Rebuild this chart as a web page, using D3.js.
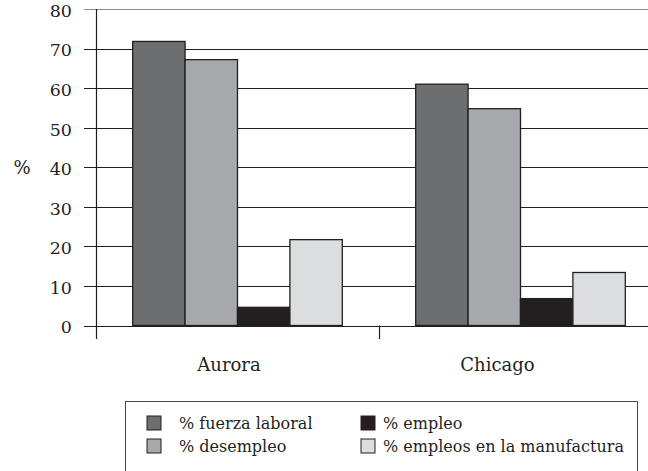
<!DOCTYPE html>
<html><head><meta charset="utf-8">
<script src="https://cdn.jsdelivr.net/npm/d3@7"></script>
<style>body{margin:0;background:#fff}svg{display:block}text{font-family:"DejaVu Serif",serif;fill:#231f20}</style>
</head><body><svg id="c" width="648" height="471"></svg>
<script>
const categories = ["Aurora", "Chicago"];
const seriesNames = ["% fuerza laboral", "% desempleo", "% empleo", "% empleos en la manufactura"];
const seriesColors = ["#6d6e70", "#a7a8ab", "#231f20", "#dcdddf"];
const aurora = [71.8, 67.2, 4.6, 21.7];
const chicago = [61.0, 54.8, 6.8, 13.4];
const yTicks = [0, 10, 20, 30, 40, 50, 60, 70, 80];
const values = [aurora, chicago];

const svg = d3.select("#c");
const pLeft = 96, pRight = 662, pTop = 9, pBottom = 325.5;
const y = d3.scaleLinear().domain([0, 80]).range([pBottom, pTop]);
const x0 = d3.scaleBand().domain(categories).range([pLeft, pRight]).paddingInner(0).paddingOuter(0);
const x1 = d3.scaleBand().domain(seriesNames).range([0, x0.bandwidth()]).paddingOuter(0.7).paddingInner(0);
const labelX = d3.scalePoint().domain(categories).range([229, 497.5]);

// gridlines
svg.append("g").selectAll("line").data(yTicks).join("line")
  .attr("x1", 84).attr("x2", 648)
  .attr("y1", d => Math.round(y(d)) + 0.5).attr("y2", d => Math.round(y(d)) + 0.5)
  .attr("stroke", d => d === 80 ? "#8a8a8c" : "#231f20").attr("stroke-width", 1.2);

// y labels
svg.append("g").selectAll("text").data(yTicks).join("text")
  .attr("x", 72).attr("y", d => y(d)).attr("dy", "0.45em")
  .attr("text-anchor", "end").attr("font-size", 17.5).text(d => d);
svg.append("text").attr("x", 22).attr("y", y(40)).attr("dy", "0.4em")
  .attr("text-anchor", "middle").attr("font-size", 18).text("%");

// bars
const groups = svg.append("g").selectAll("g").data(categories).join("g")
  .attr("transform", d => `translate(${x0(d)},0)`);
groups.selectAll("rect").data((d, i) => values[i].map((v, j) => ({v, j})))
  .join("rect")
  .attr("x", d => x1(seriesNames[d.j]))
  .attr("width", x1.bandwidth())
  .attr("y", d => y(d.v))
  .attr("height", d => pBottom - y(d.v))
  .attr("fill", d => seriesColors[d.j])
  .attr("stroke", "#231f20").attr("stroke-width", 1.3);

// axes lines
svg.append("line").attr("x1", pLeft + 0.5).attr("x2", pLeft + 0.5).attr("y1", pTop).attr("y2", 339)
  .attr("stroke", "#231f20").attr("stroke-width", 1.2);
svg.append("g").selectAll("line").data(categories.slice(1)).join("line")
  .attr("x1", d => x0(d) + 0.5).attr("x2", d => x0(d) + 0.5).attr("y1", pBottom).attr("y2", 339)
  .attr("stroke", "#231f20").attr("stroke-width", 1.2);

// x labels
svg.append("g").selectAll("text").data(categories).join("text")
  .attr("x", d => labelX(d)).attr("y", 365).attr("dy", "0.35em")
  .attr("text-anchor", "middle").attr("font-size", 18).text(d => d);

// legend
svg.append("rect").attr("x", 125.5).attr("y", 401.5).attr("width", 512).attr("height", 80)
  .attr("fill", "none").attr("stroke", "#4a4a4c").attr("stroke-width", 1);
const legX = [147, 147, 361, 361], legY = [423, 446, 423, 446];
const leg = svg.append("g").selectAll("g").data(seriesNames).join("g")
  .attr("transform", (d, i) => `translate(${legX[i]},${legY[i]})`);
leg.append("rect").attr("x", 0).attr("y", -7).attr("width", 14).attr("height", 14)
  .attr("fill", (d, i) => seriesColors[i]).attr("stroke", "#231f20").attr("stroke-width", 1);
leg.append("text").attr("x", (d, i) => i < 2 ? 32 : 22).attr("y", 0).attr("dy", "0.35em")
  .attr("font-size", 16).text(d => d);
</script></body></html>
